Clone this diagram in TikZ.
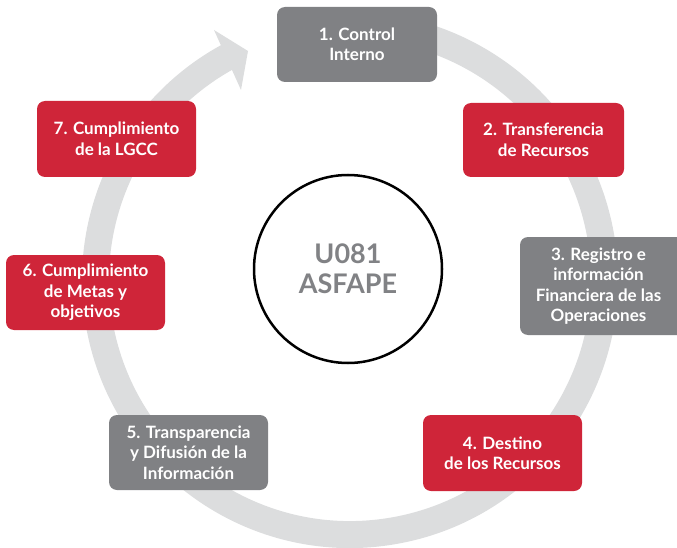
\documentclass[tikz,border=0pt]{standalone}
\usepackage{fontspec}
\setmainfont{Lato}
\definecolor{boxred}{HTML}{CF2539}
\definecolor{boxgray}{HTML}{808184}
\definecolor{ringgray}{HTML}{DCDDDE}
\definecolor{centergray}{HTML}{818285}
\tikzset{
  stagebox/.style={rectangle, rounded corners=8pt, inner sep=0pt, align=center,
    text=white, font=\fontsize{17}{20.5}\selectfont\bfseries},
  redbox/.style={stagebox, fill=boxred},
  graybox/.style={stagebox, fill=boxgray},
  ringline/.style={draw=ringgray, line width=27pt},
}
\begin{document}
\begin{tikzpicture}[x=1pt,y=-1pt]
\useasboundingbox (0,0) rectangle (677,548);
% ring with arrow
\coordinate (ringstart) at (305.8,29.4);
\draw[ringline] (ringstart) arc[start angle=100, end angle=-241.5, radius=254.5pt];
\coordinate (headout) at (214,30);
\coordinate (headtip) at (248,51);
\coordinate (headin) at (241,90);
\fill[ringgray] (headout) -- (headtip) -- (headin) -- cycle;
% boxes
\node[graybox, minimum width=160pt, minimum height=75pt] (b1) at (357,44.5) {1. Control\\Interno};
\node[redbox, minimum width=161pt, minimum height=74pt] (b2) at (543.5,140) {2. Transferencia\\de Recursos};
\path[fill=boxgray, rounded corners=8pt] (520,237) rectangle (695,335);
\node[stagebox] (b3) at (598.5,286) {3. Registro e\\información\\Financiera de las\\Operaciones};
\node[redbox, minimum width=159pt, minimum height=76pt] (b4) at (502.5,453) {4. Destino\\de los Recursos};
\node[graybox, minimum width=159pt, minimum height=75pt] (b5) at (188.5,452.5) {5. Transparencia\\y Difusión de la\\Información};
\node[redbox, minimum width=159pt, minimum height=75pt] (b6) at (85.5,292.5) {6. Cumplimiento\\de Metas y\\objetivos};
\node[redbox, minimum width=159pt, minimum height=76pt] (b7) at (116.5,139) {7. Cumplimiento\\de la LGCC};
% center
\node[circle, draw=black, line width=2.5pt, fill=white, minimum size=188pt, inner sep=0pt,
  align=center, text=centergray, font=\fontsize{27}{30}\selectfont\bfseries] (center) at (348,269) {U081\\ASFAPE};
\end{tikzpicture}
\end{document}
